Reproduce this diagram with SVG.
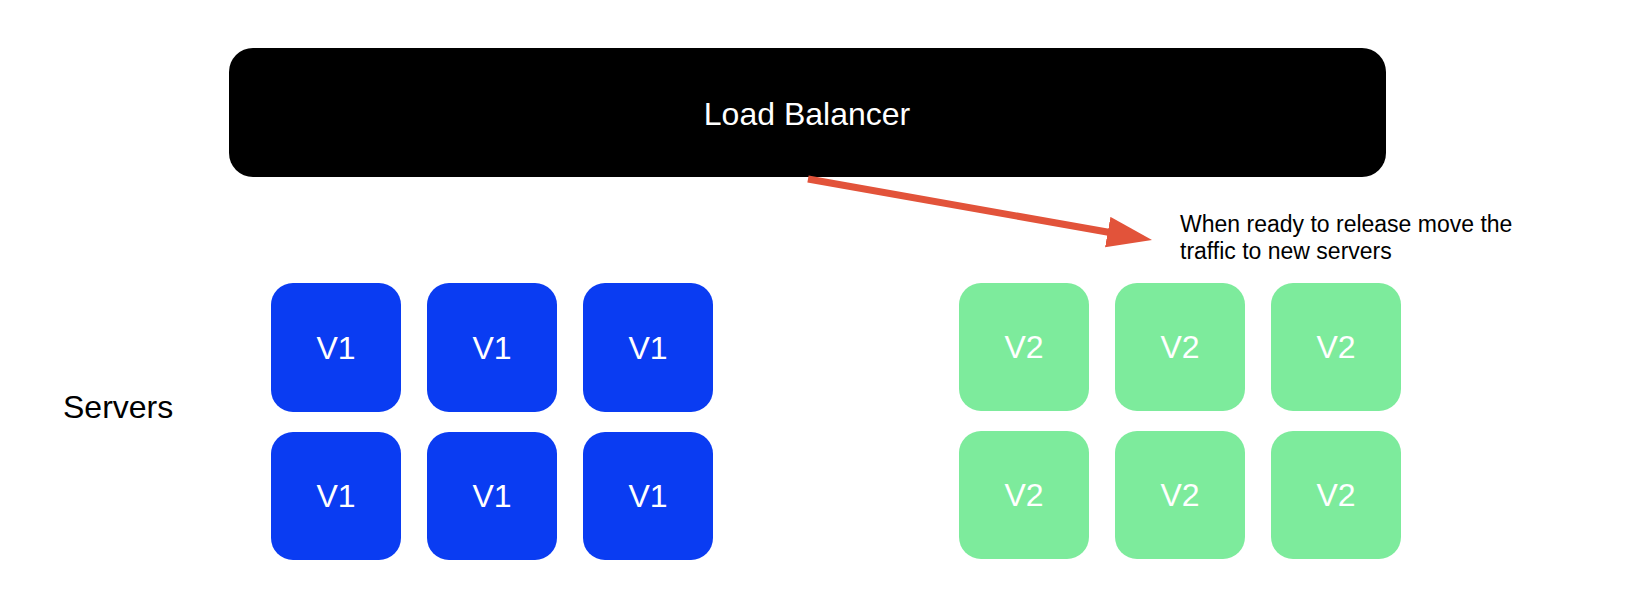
<svg xmlns="http://www.w3.org/2000/svg" width="1642" height="608" viewBox="0 0 1642 608">
  <style>
    text { font-family: "Liberation Sans", Arial, sans-serif; }
    .lb { fill: #000000; }
    .v1 { fill: #0A3CF2; }
    .v2 { fill: #7DEB9C; }
    .boxlabel { fill: #ffffff; font-size: 32px; text-anchor: middle; }
    .lblabel { fill: #ffffff; font-size: 32px; text-anchor: middle; }
    .note { fill: #000000; font-size: 23px; }
    .side { fill: #000000; font-size: 32px; }
    .conn { stroke: #E2533A; stroke-width: 7; fill: none; }
  </style>
  <defs>
    <marker id="arrow" markerUnits="userSpaceOnUse" markerWidth="48" markerHeight="34" refX="8" refY="15.5" orient="auto">
      <path d="M0,0 L45,15.5 L0,31 Z" fill="#E2533A"/>
    </marker>
  </defs>
  <rect width="1642" height="608" fill="#ffffff"/>

  <g id="load-balancer">
    <rect class="lb" x="229" y="48" width="1157" height="129" rx="24" ry="24"/>
    <text class="lblabel" x="807" y="125">Load Balancer</text>
  </g>

  <g id="connectors">
    <path class="conn" d="M808,179 L1115.6,233.5" marker-end="url(#arrow)"/>
  </g>

  <g id="note">
    <text class="note" x="1180" y="232">When ready to release move the</text>
    <text class="note" x="1180" y="259">traffic to new servers</text>
  </g>

  <g id="servers-label">
    <text class="side" x="63" y="418">Servers</text>
  </g>

  <g id="v1-1"><rect class="v1" x="271" y="283" width="130" height="129" rx="22"/><text class="boxlabel" x="336" y="359">V1</text></g>
  <g id="v1-2"><rect class="v1" x="427" y="283" width="130" height="129" rx="22"/><text class="boxlabel" x="492" y="359">V1</text></g>
  <g id="v1-3"><rect class="v1" x="583" y="283" width="130" height="129" rx="22"/><text class="boxlabel" x="648" y="359">V1</text></g>
  <g id="v1-4"><rect class="v1" x="271" y="432" width="130" height="128" rx="22"/><text class="boxlabel" x="336" y="507">V1</text></g>
  <g id="v1-5"><rect class="v1" x="427" y="432" width="130" height="128" rx="22"/><text class="boxlabel" x="492" y="507">V1</text></g>
  <g id="v1-6"><rect class="v1" x="583" y="432" width="130" height="128" rx="22"/><text class="boxlabel" x="648" y="507">V1</text></g>

  <g id="v2-1"><rect class="v2" x="959" y="283" width="130" height="128" rx="22"/><text class="boxlabel" x="1024" y="358">V2</text></g>
  <g id="v2-2"><rect class="v2" x="1115" y="283" width="130" height="128" rx="22"/><text class="boxlabel" x="1180" y="358">V2</text></g>
  <g id="v2-3"><rect class="v2" x="1271" y="283" width="130" height="128" rx="22"/><text class="boxlabel" x="1336" y="358">V2</text></g>
  <g id="v2-4"><rect class="v2" x="959" y="431" width="130" height="128" rx="22"/><text class="boxlabel" x="1024" y="506">V2</text></g>
  <g id="v2-5"><rect class="v2" x="1115" y="431" width="130" height="128" rx="22"/><text class="boxlabel" x="1180" y="506">V2</text></g>
  <g id="v2-6"><rect class="v2" x="1271" y="431" width="130" height="128" rx="22"/><text class="boxlabel" x="1336" y="506">V2</text></g>
</svg>
